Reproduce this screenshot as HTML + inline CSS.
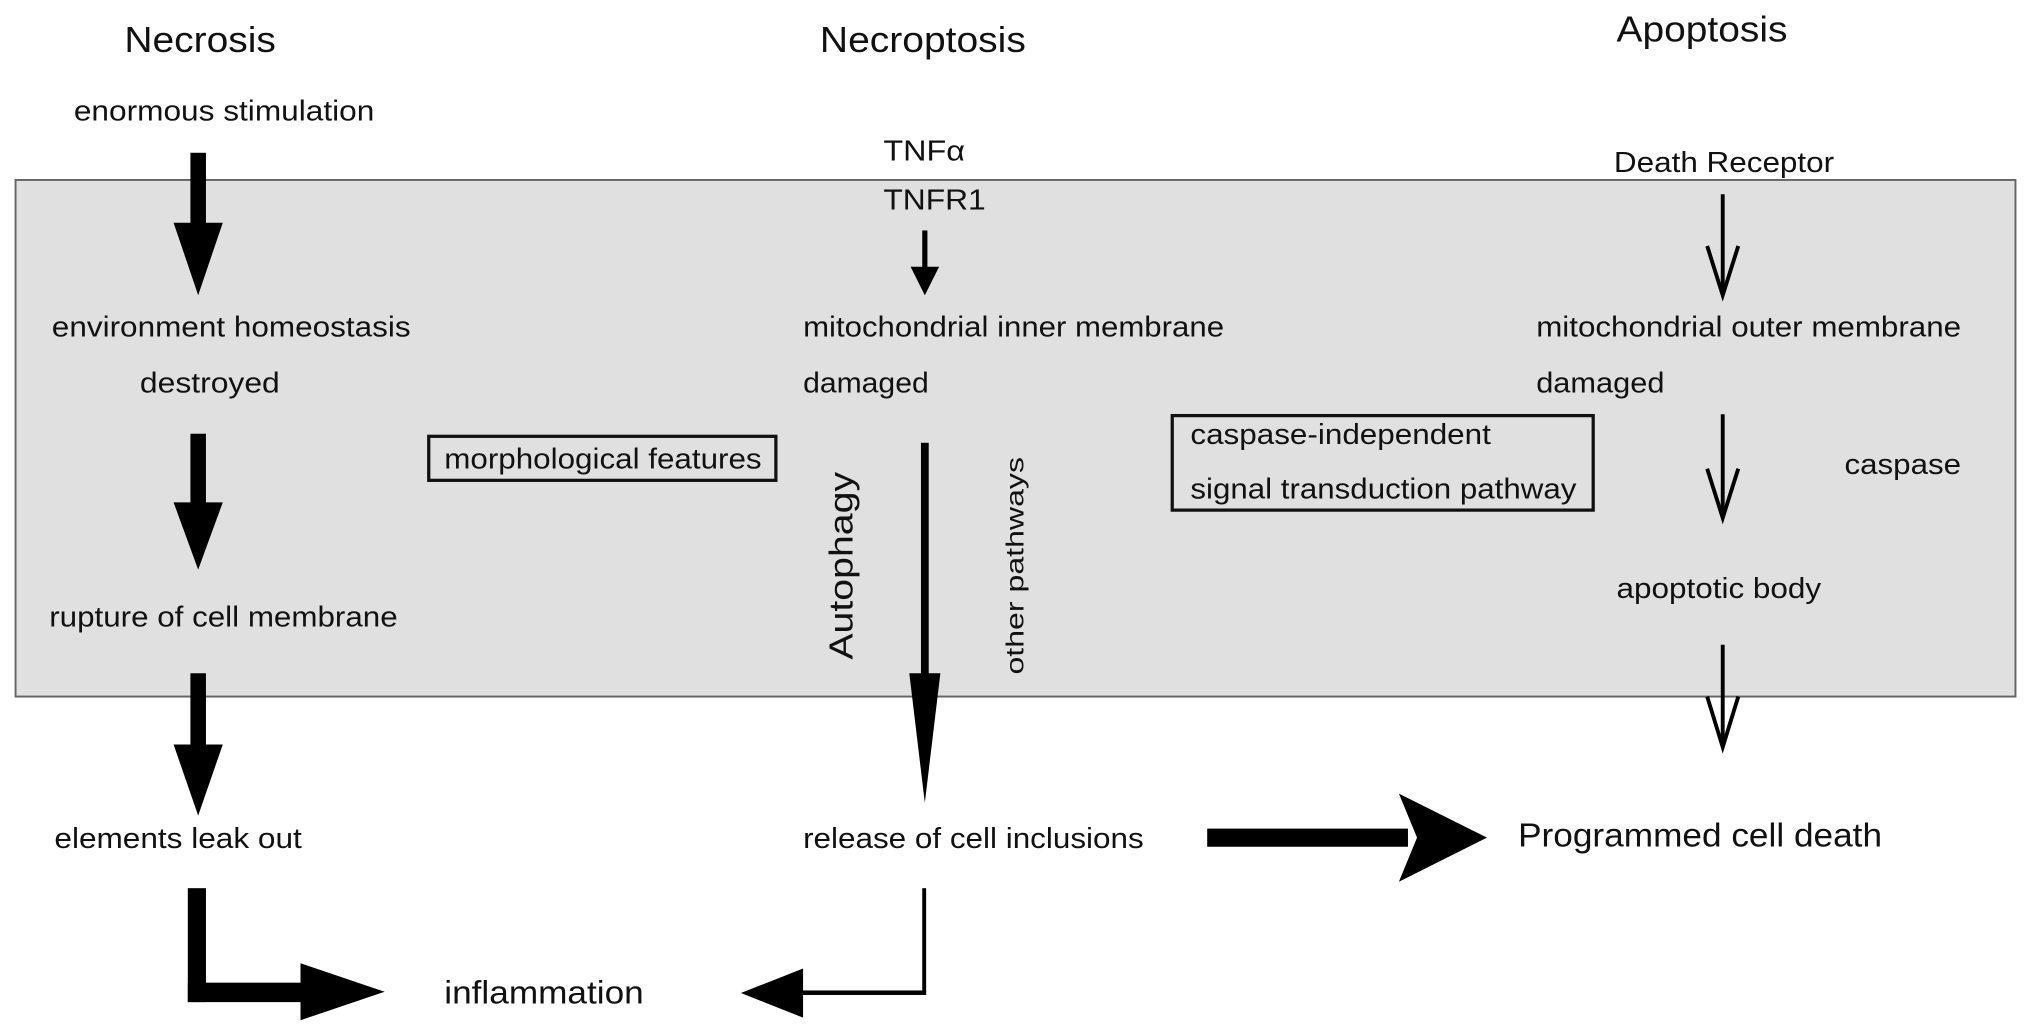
<!DOCTYPE html>
<html><head><meta charset="utf-8"><style>
html,body{margin:0;padding:0;background:#fff;width:2031px;height:1028px;overflow:hidden}
svg{display:block}
text{font-family:"Liberation Sans",Arial,sans-serif;fill:#111}
</style></head><body>
<svg width="2031" height="1028" viewBox="0 0 1568 794" preserveAspectRatio="none" xmlns="http://www.w3.org/2000/svg">
<rect x="12" y="139" width="1544" height="399" fill="#e0e0e0" stroke="#666" stroke-width="1.5"/>
<g font-size="28">
<text x="96" y="40" textLength="117" lengthAdjust="spacingAndGlyphs">Necrosis</text>
<text x="633" y="40" textLength="159" lengthAdjust="spacingAndGlyphs">Necroptosis</text>
<text x="1248" y="32" textLength="132" lengthAdjust="spacingAndGlyphs">Apoptosis</text>
</g>
<g font-size="22">
<text x="57" y="93" textLength="232" lengthAdjust="spacingAndGlyphs">enormous stimulation</text>
<text x="40" y="260" textLength="277" lengthAdjust="spacingAndGlyphs">environment homeostasis</text>
<text x="108" y="303" textLength="108" lengthAdjust="spacingAndGlyphs">destroyed</text>
<text x="38" y="484" textLength="269" lengthAdjust="spacingAndGlyphs">rupture of cell membrane</text>
<text x="42" y="655" textLength="191" lengthAdjust="spacingAndGlyphs">elements leak out</text>
<text x="682" y="124" textLength="63" lengthAdjust="spacingAndGlyphs">TNFα</text>
<text x="682" y="162" textLength="79" lengthAdjust="spacingAndGlyphs">TNFR1</text>
<text x="620" y="260" textLength="325" lengthAdjust="spacingAndGlyphs">mitochondrial inner membrane</text>
<text x="620" y="303" textLength="97" lengthAdjust="spacingAndGlyphs">damaged</text>
<text x="620" y="655" textLength="263" lengthAdjust="spacingAndGlyphs">release of cell inclusions</text>
<text x="343" y="362" textLength="245" lengthAdjust="spacingAndGlyphs">morphological features</text>
<text x="919" y="343" textLength="232" lengthAdjust="spacingAndGlyphs">caspase-independent</text>
<text x="919" y="385" textLength="298" lengthAdjust="spacingAndGlyphs">signal transduction pathway</text>
<text x="1246" y="133" textLength="170" lengthAdjust="spacingAndGlyphs">Death Receptor</text>
<text x="1186" y="260" textLength="328" lengthAdjust="spacingAndGlyphs">mitochondrial outer membrane</text>
<text x="1186" y="303" textLength="99" lengthAdjust="spacingAndGlyphs">damaged</text>
<text x="1424" y="366" textLength="90" lengthAdjust="spacingAndGlyphs">caspase</text>
<text x="1248" y="462" textLength="158" lengthAdjust="spacingAndGlyphs">apoptotic body</text>
<text x="343" y="775" font-size="25" textLength="154" lengthAdjust="spacingAndGlyphs">inflammation</text>
<text x="1172" y="654" font-size="26" textLength="281" lengthAdjust="spacingAndGlyphs">Programmed cell death</text>
</g>
<text transform="translate(658,437) rotate(-90)" font-size="26" text-anchor="middle" textLength="145" lengthAdjust="spacingAndGlyphs">Autophagy</text>
<text transform="translate(790,437) rotate(-90)" font-size="19" text-anchor="middle" textLength="168" lengthAdjust="spacingAndGlyphs">other pathways</text>
<rect x="331" y="337" width="268" height="34" fill="none" stroke="#111" stroke-width="2.5"/>
<rect x="905" y="321" width="325" height="73" fill="none" stroke="#111" stroke-width="2.5"/>
<g fill="#000">
<rect x="147" y="118" width="12" height="60"/><polygon points="134,172 172,172 153,228"/>
<rect x="147" y="335" width="12" height="58"/><polygon points="134,388 172,388 153,440"/>
<rect x="147" y="520" width="12" height="60"/><polygon points="134,575 172,575 153,630"/>
<rect x="145" y="686" width="14" height="88"/><rect x="145" y="759" width="94" height="15"/>
<polygon points="232,744 297,766 232,788"/>
<rect x="712" y="178" width="4" height="30"/><polygon points="703,206 725,206 714,228"/>
<rect x="711" y="342" width="6" height="182"/><polygon points="702,520 726,520 714,620"/>
<rect x="712" y="686" width="3" height="82"/><rect x="618" y="765" width="97" height="3.5"/>
<polygon points="620,748 572,767 620,786"/>
<rect x="932" y="640" width="155" height="14"/>
<polygon points="1080,613 1148,647 1080,681 1094,647"/>
</g>
<g stroke="#000" stroke-width="3" fill="none">
<line x1="1330" y1="150" x2="1330" y2="226"/><polyline points="1318,190 1330,228 1342,190"/>
<line x1="1330" y1="320" x2="1330" y2="398"/><polyline points="1318,362 1330,400 1342,362"/>
<line x1="1330" y1="498" x2="1330" y2="575"/><polyline points="1318,538 1330,577 1342,538"/>
</g>
</svg>
</body></html>
